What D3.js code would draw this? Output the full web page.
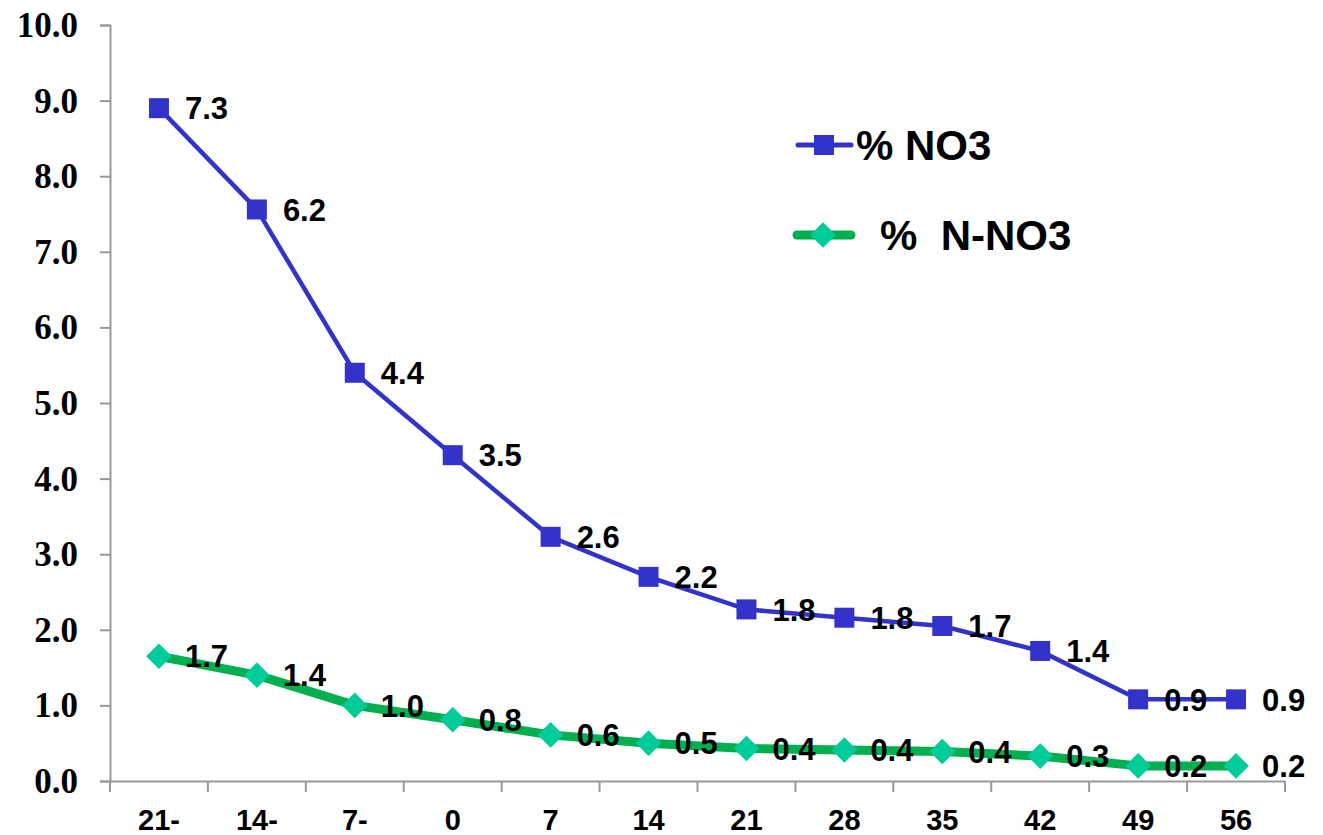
<!DOCTYPE html>
<html><head><meta charset="utf-8">
<script src="https://cdn.jsdelivr.net/npm/d3@7"></script>
<style>body{margin:0;background:#fff}</style>
</head><body>
<svg id="c" width="1323" height="835"></svg>
<script>
const categories = ["21-","14-","7-","0","7","14","21","28","35","42","49","56"];
const no3Values = [8.9,7.56,5.4,4.31,3.23,2.7,2.27,2.16,2.05,1.72,1.08,1.08];
const no3Labels = ["7.3","6.2","4.4","3.5","2.6","2.2","1.8","1.8","1.7","1.4","0.9","0.9"];
const nno3Values = [1.65,1.4,1.0,0.81,0.61,0.5,0.43,0.41,0.39,0.33,0.2,0.2];
const nno3Labels = ["1.7","1.4","1.0","0.8","0.6","0.5","0.4","0.4","0.4","0.3","0.2","0.2"];
const yTicks = [0,1,2,3,4,5,6,7,8,9,10];
const seriesNames = ["% NO3","%  N-NO3"];

(function(){
const svg = d3.select("#c");
const mLeft = 110, mRight = 1285, mTop = 25, mBottom = 781;
const x = d3.scaleBand().domain(categories).range([mLeft, mRight]).padding(0);
const y = d3.scaleLinear().domain([0,10]).range([mBottom, mTop]);
const axisColor = "#999";

const ya = svg.append("g").attr("transform",`translate(${mLeft},0)`)
  .call(d3.axisLeft(y).tickValues(yTicks).tickFormat(d3.format(".1f")).tickSize(10).tickPadding(22));
ya.select(".domain").attr("stroke",axisColor).attr("stroke-width",2);
ya.selectAll(".tick line").attr("stroke",axisColor).attr("stroke-width",2);
ya.selectAll(".tick text").attr("font-family","'Liberation Serif','Times New Roman',serif")
  .attr("font-weight","bold").attr("font-size",35).attr("fill","#000").attr("dy","0.33em");

const xa = svg.append("g").attr("transform",`translate(0,${mBottom})`)
  .call(d3.axisBottom(x).tickSize(0).tickPadding(28));
xa.select(".domain").attr("stroke",axisColor).attr("stroke-width",2);
xa.selectAll(".tick text").attr("font-family","'Liberation Sans',Arial,sans-serif")
  .attr("font-weight","bold").attr("font-size",29).attr("fill","#000");
const bounds = categories.map(c => x(c)).concat([x(categories[categories.length-1]) + x.bandwidth()]);
svg.append("g").selectAll("line").data(bounds).join("line")
  .attr("x1",d=>d).attr("x2",d=>d).attr("y1",mBottom).attr("y2",mBottom+11)
  .attr("stroke",axisColor).attr("stroke-width",2);

const cx = (d,i) => x(categories[i]) + x.bandwidth()/2;
const blue = "#3333CC", green = "#00B050", diamond = "#00CC99";
const line = vals => d3.line().x((d,i)=>cx(d,i)).y(d=>y(d))(vals);

svg.append("path").attr("d",line(nno3Values)).attr("fill","none").attr("stroke",green).attr("stroke-width",9).attr("stroke-linejoin","round");
const sym = d3.symbol().type(d3.symbolDiamond2).size(420);
svg.append("g").selectAll("path").data(nno3Values).join("path")
  .attr("d",sym).attr("transform",(d,i)=>`translate(${cx(d,i)},${y(d)})`).attr("fill",diamond);

svg.append("path").attr("d",line(no3Values)).attr("fill","none").attr("stroke",blue).attr("stroke-width",4.5);
svg.append("g").selectAll("rect").data(no3Values).join("rect")
  .attr("x",(d,i)=>cx(d,i)-10).attr("y",d=>y(d)-10).attr("width",20).attr("height",20).attr("fill",blue);

const lblFont = "'Liberation Sans',Arial,sans-serif";
svg.append("g").selectAll("text").data(no3Values).join("text")
  .attr("x",(d,i)=>cx(d,i)+26).attr("y",d=>y(d)).attr("dy","0.36em")
  .attr("font-family",lblFont).attr("font-weight","bold").attr("font-size",31).attr("fill","#000")
  .text((d,i)=>no3Labels[i]);
svg.append("g").selectAll("text").data(nno3Values).join("text")
  .attr("x",(d,i)=>cx(d,i)+26).attr("y",d=>y(d)).attr("dy","0.36em")
  .attr("font-family",lblFont).attr("font-weight","bold").attr("font-size",31).attr("fill","#000")
  .text((d,i)=>nno3Labels[i]);

const lg = svg.append("g");
lg.append("line").attr("x1",798).attr("x2",851).attr("y1",145).attr("y2",145).attr("stroke",blue).attr("stroke-width",5).attr("stroke-linecap","round");
lg.append("rect").attr("x",814).attr("y",135).attr("width",20).attr("height",20).attr("fill",blue);
lg.append("text").attr("x",856).attr("y",145).attr("dy","0.36em").attr("font-family",lblFont).attr("font-weight","bold").attr("font-size",42).text(seriesNames[0]);
lg.append("line").attr("x1",797).attr("x2",851).attr("y1",235).attr("y2",235).attr("stroke",green).attr("stroke-width",9).attr("stroke-linecap","round");
lg.append("path").attr("d",sym).attr("transform","translate(823,235)").attr("fill",diamond);
lg.append("text").attr("x",880).attr("y",235).attr("dy","0.36em").attr("font-family",lblFont).attr("font-weight","bold").attr("font-size",42).style("white-space","pre").text(seriesNames[1]);
})();
</script>
</body></html>
